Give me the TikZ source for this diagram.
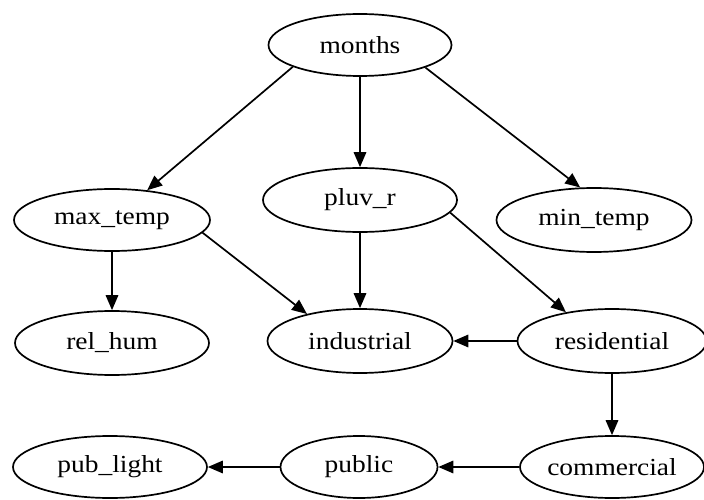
\documentclass[tikz,border=0pt]{standalone}
\usepackage{fontspec}
\setmainfont{Liberation Serif}[FakeStretch=1.12]
\usetikzlibrary{shapes.geometric,arrows.meta}
\begin{document}
\begin{tikzpicture}[x=1pt,y=-1pt,
  var/.style={ellipse,draw,line width=1.7pt,inner sep=0pt,
    font=\fontsize{24.5}{28}\selectfont},
  edge/.style={line width=1.7pt,-{Triangle[length=15pt,width=12.5pt]}}]
\useasboundingbox (0,0) rectangle (704,500);

% variables
\node[var,minimum width=183pt,minimum height=62pt] (months)      at (360,45)  {months};
\node[var,minimum width=196pt,minimum height=62pt] (max_temp)    at (112,220) {max\_temp};
\node[var,minimum width=194pt,minimum height=64pt] (pluv_r)      at (360,200) {pluv\_r};
\node[var,minimum width=195pt,minimum height=64pt] (min_temp)    at (594,220) {min\_temp};
\node[var,minimum width=194pt,minimum height=64pt] (rel_hum)     at (112,343) {rel\_hum};
\node[var,minimum width=185pt,minimum height=64pt] (industrial)  at (360,341) {industrial};
\node[var,minimum width=189pt,minimum height=64pt] (residential) at (612,341) {residential};
\node[var,minimum width=194pt,minimum height=62pt] (pub_light)   at (110,467) {pub\_light};
\node[var,minimum width=157pt,minimum height=62pt] (public)      at (359,467) {public};
\node[var,minimum width=184pt,minimum height=62pt] (commercial)  at (612,467) {commercial};

% dependencies
\draw[edge] (months.-162) -- (max_temp);
\draw[edge] (months) -- (pluv_r);
\draw[edge] (months.-19) -- (min_temp.113);
\draw[edge] (max_temp) -- (rel_hum);
\draw[edge] (max_temp.-8) -- (industrial.153);
\draw[edge] (pluv_r) -- (industrial);
\draw[edge] (pluv_r.-8) -- (residential.148);
\draw[edge] (residential) -- (industrial);
\draw[edge] (residential) -- (commercial);
\draw[edge] (commercial) -- (public);
\draw[edge] (public) -- (pub_light);
\end{tikzpicture}
\end{document}
